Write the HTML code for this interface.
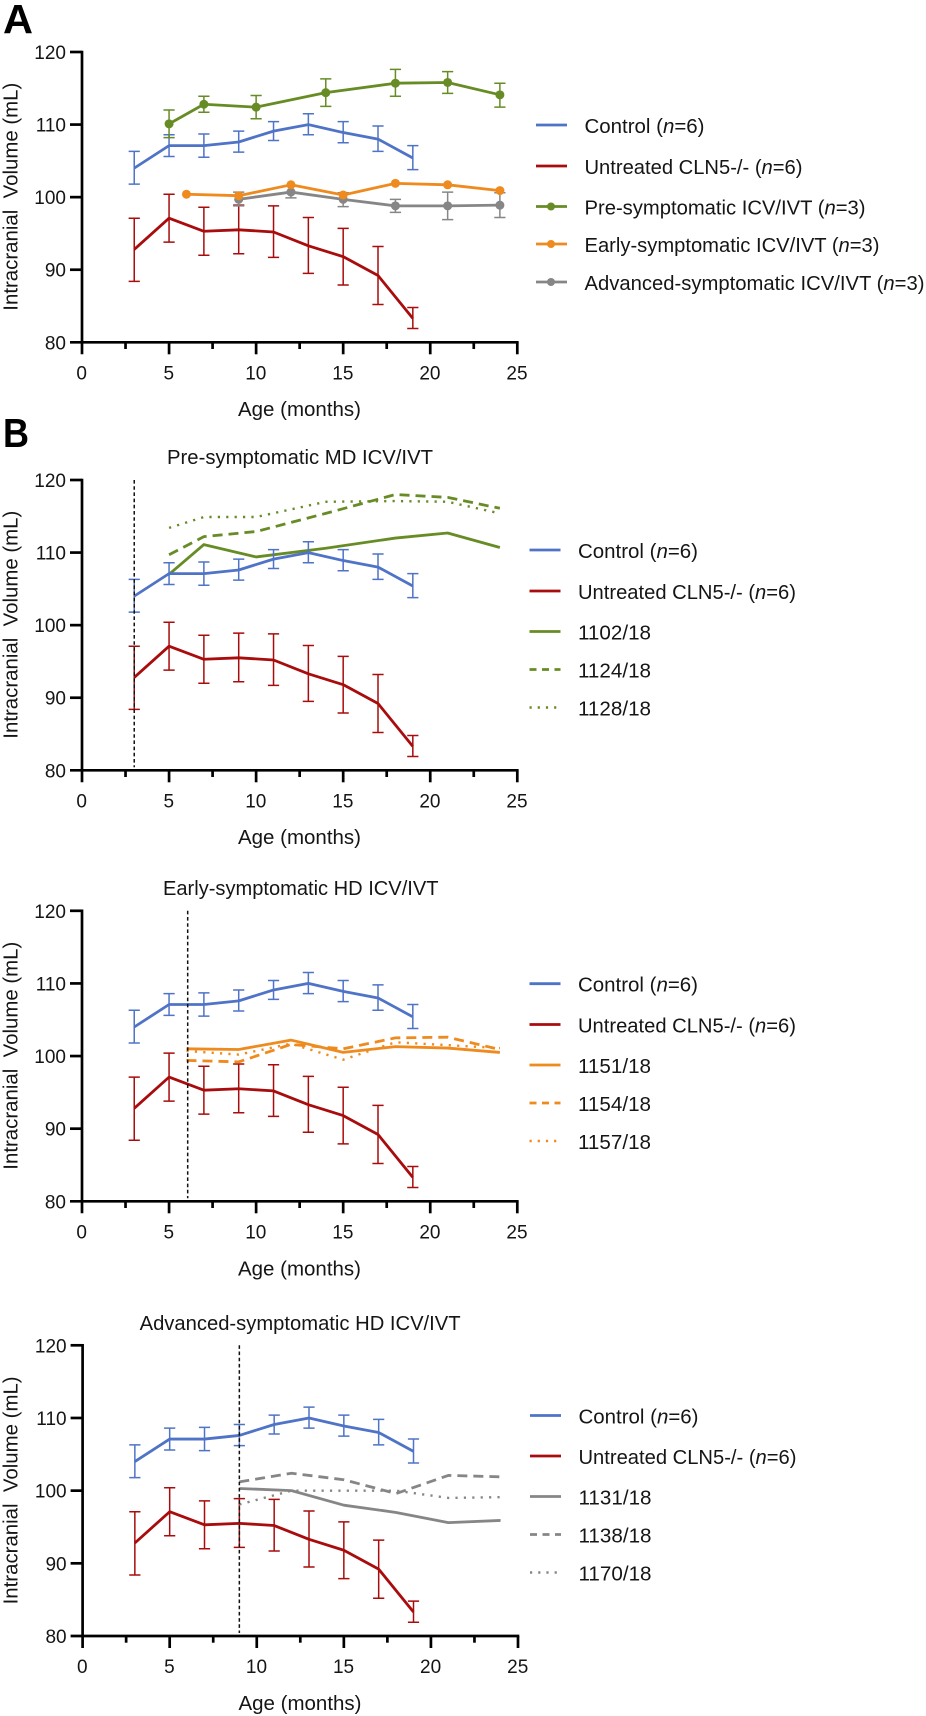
<!DOCTYPE html>
<html lang="en">
<head>
<meta charset="utf-8">
<title>Intracranial volume charts</title>
<style>
html,body{margin:0;padding:0;background:#fff;}
svg{display:block;}
text{font-family:"Liberation Sans",sans-serif;fill:#151515;}
.t{font-size:20px;}
.n{font-size:19px;}
.letter{font-size:41px;font-weight:bold;fill:#000;}
</style>
</head>
<body>
<svg id="figure" width="926" height="1716" viewBox="0 0 926 1716" xmlns="http://www.w3.org/2000/svg">
  <rect width="926" height="1716" fill="#fff"/>

  <text class="letter" x="3" y="33" textLength="30" lengthAdjust="spacingAndGlyphs">A</text>
  <text class="letter" x="3" y="447" textLength="26" lengthAdjust="spacingAndGlyphs">B</text>

  <!-- Titles -->
  <text class="t" x="167" y="464" textLength="266" lengthAdjust="spacingAndGlyphs">Pre-symptomatic MD ICV/IVT</text>
  <text class="t" x="163" y="895" textLength="275.5" lengthAdjust="spacingAndGlyphs">Early-symptomatic HD ICV/IVT</text>
  <text class="t" x="139.6" y="1330" textLength="321" lengthAdjust="spacingAndGlyphs">Advanced-symptomatic HD ICV/IVT</text>

  <!-- Axis titles -->
  <text class="t" transform="translate(17.7,310.7) rotate(-90)" textLength="228" lengthAdjust="spacingAndGlyphs">Intracranial&#160; Volume (mL)</text>
  <text class="t" transform="translate(17.7,738.7) rotate(-90)" textLength="228" lengthAdjust="spacingAndGlyphs">Intracranial&#160; Volume (mL)</text>
  <text class="t" transform="translate(17.7,1169.7) rotate(-90)" textLength="228" lengthAdjust="spacingAndGlyphs">Intracranial&#160; Volume (mL)</text>
  <text class="t" transform="translate(17.7,1604.4) rotate(-90)" textLength="228" lengthAdjust="spacingAndGlyphs">Intracranial&#160; Volume (mL)</text>
  <text class="t" x="238" y="416" textLength="123" lengthAdjust="spacingAndGlyphs">Age (months)</text>
  <text class="t" x="238" y="844" textLength="123" lengthAdjust="spacingAndGlyphs">Age (months)</text>
  <text class="t" x="238" y="1275.5" textLength="123" lengthAdjust="spacingAndGlyphs">Age (months)</text>
  <text class="t" x="238.5" y="1710" textLength="123" lengthAdjust="spacingAndGlyphs">Age (months)</text>

  <!-- Legend A -->
  <g stroke-width="2.8" fill="none">
    <g>
      <line x1="536" x2="567" y1="125" y2="125" stroke="#4f73c6"/>
      <text class="t" stroke="none" x="584.5" y="133" textLength="120" lengthAdjust="spacingAndGlyphs">Control (<tspan font-style="italic">n</tspan>=6)</text>
    </g>
    <g>
      <line x1="536" x2="567" y1="166" y2="166" stroke="#a80c0c"/>
      <text class="t" stroke="none" x="584.5" y="174" textLength="218" lengthAdjust="spacingAndGlyphs">Untreated CLN5-/- (<tspan font-style="italic">n</tspan>=6)</text>
    </g>
    <g>
      <line x1="536" x2="567" y1="206.5" y2="206.5" stroke="#678c25"/>
      <circle cx="551" cy="206.5" r="4" fill="#678c25" stroke="none"/>
      <text class="t" stroke="none" x="584.5" y="214.5" textLength="281" lengthAdjust="spacingAndGlyphs">Pre-symptomatic ICV/IVT (<tspan font-style="italic">n</tspan>=3)</text>
    </g>
    <g>
      <line x1="536" x2="567" y1="244" y2="244" stroke="#ee8a1e"/>
      <circle cx="551" cy="244" r="4" fill="#ee8a1e" stroke="none"/>
      <text class="t" stroke="none" x="584.5" y="252" textLength="295" lengthAdjust="spacingAndGlyphs">Early-symptomatic ICV/IVT (<tspan font-style="italic">n</tspan>=3)</text>
    </g>
    <g>
      <line x1="536" x2="567" y1="282" y2="282" stroke="#868686"/>
      <circle cx="551" cy="282" r="4" fill="#868686" stroke="none"/>
      <text class="t" stroke="none" x="584.5" y="290" textLength="340" lengthAdjust="spacingAndGlyphs">Advanced-symptomatic ICV/IVT (<tspan font-style="italic">n</tspan>=3)</text>
    </g>
  </g>

  <!-- Legend B1 -->
  <g stroke-width="2.8" fill="none">
    <g>
      <line x1="529.5" x2="560.5" y1="550" y2="550" stroke="#4f73c6"/>
      <text class="t" stroke="none" x="578" y="558" textLength="120" lengthAdjust="spacingAndGlyphs">Control (<tspan font-style="italic">n</tspan>=6)</text>
    </g>
    <g>
      <line x1="529.5" x2="560.5" y1="591" y2="591" stroke="#a80c0c"/>
      <text class="t" stroke="none" x="578" y="599" textLength="218" lengthAdjust="spacingAndGlyphs">Untreated CLN5-/- (<tspan font-style="italic">n</tspan>=6)</text>
    </g>
    <g>
      <line x1="529.5" x2="560.5" y1="631.5" y2="631.5" stroke="#678c25"/>
      <text class="t" stroke="none" x="578" y="639.5" textLength="73" lengthAdjust="spacingAndGlyphs">1102/18</text>
    </g>
    <g>
      <line x1="529.5" x2="560.5" y1="669.5" y2="669.5" stroke="#678c25" stroke-dasharray="7 5.5"/>
      <text class="t" stroke="none" x="578" y="677.5" textLength="73" lengthAdjust="spacingAndGlyphs">1124/18</text>
    </g>
    <g>
      <line x1="529.5" x2="560.5" y1="707.5" y2="707.5" stroke="#678c25" stroke-width="2.4" stroke-dasharray="2.2 6"/>
      <text class="t" stroke="none" x="578" y="715.5" textLength="73" lengthAdjust="spacingAndGlyphs">1128/18</text>
    </g>
  </g>

  <!-- Legend B2 -->
  <g stroke-width="2.8" fill="none">
    <g>
      <line x1="529.5" x2="560.5" y1="983.7" y2="983.7" stroke="#4f73c6"/>
      <text class="t" stroke="none" x="578" y="991.7" textLength="120" lengthAdjust="spacingAndGlyphs">Control (<tspan font-style="italic">n</tspan>=6)</text>
    </g>
    <g>
      <line x1="529.5" x2="560.5" y1="1024.5" y2="1024.5" stroke="#a80c0c"/>
      <text class="t" stroke="none" x="578" y="1032.5" textLength="218" lengthAdjust="spacingAndGlyphs">Untreated CLN5-/- (<tspan font-style="italic">n</tspan>=6)</text>
    </g>
    <g>
      <line x1="529.5" x2="560.5" y1="1065" y2="1065" stroke="#ee8a1e"/>
      <text class="t" stroke="none" x="578" y="1073" textLength="73" lengthAdjust="spacingAndGlyphs">1151/18</text>
    </g>
    <g>
      <line x1="529.5" x2="560.5" y1="1103" y2="1103" stroke="#ee8a1e" stroke-dasharray="7 5.5"/>
      <text class="t" stroke="none" x="578" y="1111" textLength="73" lengthAdjust="spacingAndGlyphs">1154/18</text>
    </g>
    <g>
      <line x1="529.5" x2="560.5" y1="1141" y2="1141" stroke="#ee8a1e" stroke-width="2.4" stroke-dasharray="2.2 6"/>
      <text class="t" stroke="none" x="578" y="1149" textLength="73" lengthAdjust="spacingAndGlyphs">1157/18</text>
    </g>
  </g>

  <!-- Legend B3 -->
  <g stroke-width="2.8" fill="none">
    <g>
      <line x1="530" x2="561" y1="1415.5" y2="1415.5" stroke="#4f73c6"/>
      <text class="t" stroke="none" x="578.5" y="1423.5" textLength="120" lengthAdjust="spacingAndGlyphs">Control (<tspan font-style="italic">n</tspan>=6)</text>
    </g>
    <g>
      <line x1="530" x2="561" y1="1456" y2="1456" stroke="#a80c0c"/>
      <text class="t" stroke="none" x="578.5" y="1464" textLength="218" lengthAdjust="spacingAndGlyphs">Untreated CLN5-/- (<tspan font-style="italic">n</tspan>=6)</text>
    </g>
    <g>
      <line x1="530" x2="561" y1="1496.5" y2="1496.5" stroke="#868686"/>
      <text class="t" stroke="none" x="578.5" y="1504.5" textLength="73" lengthAdjust="spacingAndGlyphs">1131/18</text>
    </g>
    <g>
      <line x1="530" x2="561" y1="1534.5" y2="1534.5" stroke="#868686" stroke-dasharray="7 5.5"/>
      <text class="t" stroke="none" x="578.5" y="1542.5" textLength="73" lengthAdjust="spacingAndGlyphs">1138/18</text>
    </g>
    <g>
      <line x1="530" x2="561" y1="1572.5" y2="1572.5" stroke="#868686" stroke-width="2.4" stroke-dasharray="2.2 6"/>
      <text class="t" stroke="none" x="578.5" y="1580.5" textLength="73" lengthAdjust="spacingAndGlyphs">1170/18</text>
    </g>
  </g>
</svg>

<script>
// ---- tick labels ----
const yTickValues = [80, 90, 100, 110, 120];
const xTickValues = [0, 5, 10, 15, 20, 25];
const xMinorTickValues = [2.5, 7.5, 12.5, 17.5, 22.5];

// ---- control and untreated (all panels) ----
const controlAges = [3, 5, 7, 9, 11, 13, 15, 17, 19];
const controlMean = [104, 107.1, 107.1, 107.6, 109.1, 110, 108.9, 108, 105.4];
const controlUpper = [106.3, 108.6, 108.7, 109.1, 110.4, 111.5, 110.4, 109.8, 107.1];
const controlLower = [101.8, 105.6, 105.5, 106.2, 107.8, 108.6, 107.5, 106.3, 103.8];

const untreatedAges = [3, 5, 7, 9, 11, 13, 15, 17, 19];
const untreatedMean = [92.8, 97.1, 95.3, 95.5, 95.2, 93.3, 91.8, 89.2, 83.3];
const untreatedUpper = [97.1, 100.4, 98.6, 98.9, 98.8, 97.2, 95.7, 93.2, 84.8];
const untreatedLower = [88.4, 93.8, 92.0, 92.2, 91.7, 89.5, 87.9, 85.2, 81.9];

// ---- panel A groups ----
const preAges = [5, 7, 10, 14, 18, 21, 24];
const preMean = [110.1, 112.8, 112.4, 114.4, 115.7, 115.8, 114.1];
const preUpper = [112, 113.9, 114, 116.3, 117.6, 117.3, 115.7];
const preLower = [108.2, 111.7, 110.8, 112.5, 113.9, 114.3, 112.4];

const earlyAges = [6, 9, 12, 15, 18, 21, 24];
const earlyMean = [100.4, 100.2, 101.7, 100.3, 101.9, 101.7, 100.9];

const advancedAges = [9, 12, 15, 18, 21, 24];
const advancedMean = [99.7, 100.7, 99.7, 98.8, 98.8, 98.9];
const advancedUpper = [100.7, 101.5, 100.6, 99.7, 100.7, 100.6];
const advancedLower = [98.8, 99.9, 98.7, 97.9, 96.9, 97.2];

// ---- panel B individual animals ----
const preAnimalAges = [5, 7, 10, 14, 18, 21, 24];
const animal1102 = [107.0, 111.1, 109.4, 110.6, 112.0, 112.7, 110.7];
const animal1124 = [109.7, 112.2, 112.9, 115.4, 118.0, 117.6, 116.1];
const animal1128 = [113.4, 114.9, 114.9, 117.0, 117.1, 117.0, 115.4];

const earlyAnimalAges = [6, 9, 12, 15, 18, 21, 24];
const animal1151 = [101.0, 100.9, 102.2, 100.5, 101.3, 101.1, 100.5];
const animal1154 = [99.4, 99.2, 101.6, 101.0, 102.5, 102.6, 100.9];
const animal1157 = [100.7, 100.2, 101.7, 99.5, 101.9, 101.5, 101.1];

const advancedAnimalAges = [9, 12, 15, 18, 21, 24];
const animal1131 = [100.3, 100.0, 98.0, 97.0, 95.6, 95.9];
const animal1138 = [101.2, 102.4, 101.5, 99.6, 102.1, 101.9];
const animal1170 = [98.1, 100.0, 100.0, 100.0, 99.0, 99.1];

// ---- treatment start (vertical marker) ----
const treatmentStartB1 = 3;
const treatmentStartB2 = 6.07;
const treatmentStartB3 = 9;

const BLUE = '#4f73c6';
const RED = '#a80c0c';
const GREEN = '#678c25';
const ORANGE = '#ee8a1e';
const GREY = '#868686';
const NS = 'http://www.w3.org/2000/svg';
const figure = document.getElementById('figure');

function makeScales(left, right, top, bottom) {
  return {
    x: function (v) { return left + (v / 25) * (right - left); },
    y: function (v) { return bottom - ((v - 80) / 40) * (bottom - top); }
  };
}

function drawAxes(prefix, s) {
  const g = document.createElementNS(NS, 'g');
  
  
  g.setAttribute('stroke', '#000');
  g.setAttribute('stroke-width', '2.7');
  const yAxis = document.createElementNS(NS, 'line');
  
  
  yAxis.setAttribute('x1', s.x(0));
  yAxis.setAttribute('x2', s.x(0));
  yAxis.setAttribute('y1', s.y(120) - 1.3);
  yAxis.setAttribute('y2', s.y(80) + 12);
  g.appendChild(yAxis);
  const xAxis = document.createElementNS(NS, 'line');
  
  
  xAxis.setAttribute('x1', s.x(0) - 12);
  xAxis.setAttribute('x2', s.x(25) + 1.3);
  xAxis.setAttribute('y1', s.y(80));
  xAxis.setAttribute('y2', s.y(80));
  g.appendChild(xAxis);
  yTickValues.forEach(function (v) {
    if (v !== 80) {
      const tick = document.createElementNS(NS, 'line');
      
      
      tick.setAttribute('x1', s.x(0) - 12);
      tick.setAttribute('x2', s.x(0));
      tick.setAttribute('y1', s.y(v));
      tick.setAttribute('y2', s.y(v));
      g.appendChild(tick);
    }
    const label = document.createElementNS(NS, 'text');
    
    
    label.setAttribute('class', 'n');
    label.setAttribute('stroke', 'none');
    label.setAttribute('text-anchor', 'end');
    label.setAttribute('x', s.x(0) - 16);
    label.setAttribute('y', s.y(v) + 7);
    label.textContent = String(v);
    g.appendChild(label);
  });
  xTickValues.forEach(function (v) {
    if (v !== 0) {
      const tick = document.createElementNS(NS, 'line');
      
      
      tick.setAttribute('x1', s.x(v));
      tick.setAttribute('x2', s.x(v));
      tick.setAttribute('y1', s.y(80));
      tick.setAttribute('y2', s.y(80) + 12);
      g.appendChild(tick);
    }
    const label = document.createElementNS(NS, 'text');
    
    
    label.setAttribute('class', 'n');
    label.setAttribute('stroke', 'none');
    label.setAttribute('text-anchor', 'middle');
    label.setAttribute('x', s.x(v) - 0.3);
    label.setAttribute('y', s.y(80) + 37);
    label.textContent = String(v);
    g.appendChild(label);
  });
  xMinorTickValues.forEach(function (v) {
    const tick = document.createElementNS(NS, 'line');
    
    
    tick.setAttribute('x1', s.x(v));
    tick.setAttribute('x2', s.x(v));
    tick.setAttribute('y1', s.y(80));
    tick.setAttribute('y2', s.y(80) + 6.7);
    g.appendChild(tick);
  });
  figure.appendChild(g);
}

function drawLine(name, s, ages, values, color, dash, width) {
  const p = document.createElementNS(NS, 'polyline');
  
  
  p.setAttribute('points', ages.map(function (a, i) { return s.x(a).toFixed(2) + ',' + s.y(values[i]).toFixed(2); }).join(' '));
  p.setAttribute('fill', 'none');
  p.setAttribute('stroke', color);
  p.setAttribute('stroke-width', width || 2.8);
  p.setAttribute('stroke-linejoin', 'round');
  if (dash) { p.setAttribute('stroke-dasharray', dash); }
  figure.appendChild(p);
}

function drawErrors(name, s, ages, upper, lower, color) {
  ages.forEach(function (a, i) {
    const e = document.createElementNS(NS, 'path');
    
    
    const x = s.x(a), u = s.y(upper[i]), l = s.y(lower[i]);
    e.setAttribute('d', 'M' + (x - 5.6) + ' ' + u + 'H' + (x + 5.6) + 'M' + x + ' ' + u + 'V' + l + 'M' + (x - 5.6) + ' ' + l + 'H' + (x + 5.6));
    e.setAttribute('fill', 'none');
    e.setAttribute('stroke', color);
    e.setAttribute('stroke-width', '1.5');
    figure.appendChild(e);
  });
}

function drawPoints(name, s, ages, values, color) {
  ages.forEach(function (a, i) {
    const c = document.createElementNS(NS, 'circle');
    
    
    c.setAttribute('cx', s.x(a));
    c.setAttribute('cy', s.y(values[i]));
    c.setAttribute('r', '4.5');
    c.setAttribute('fill', color);
    figure.appendChild(c);
  });
}

function drawMarker(name, s, age) {
  const m = document.createElementNS(NS, 'line');
  
  
  m.setAttribute('x1', s.x(age));
  m.setAttribute('x2', s.x(age));
  m.setAttribute('y1', s.y(120));
  m.setAttribute('y2', s.y(80) - 3);
  m.setAttribute('stroke', '#111');
  m.setAttribute('stroke-width', '1.5');
  m.setAttribute('stroke-dasharray', '3.6 2.6');
  figure.appendChild(m);
}

function drawBaseSeries(prefix, s) {
  drawErrors(prefix + '-control', s, controlAges, controlUpper, controlLower, BLUE);
  drawLine(prefix + '-control-line', s, controlAges, controlMean, BLUE);
  drawErrors(prefix + '-untreated', s, untreatedAges, untreatedUpper, untreatedLower, RED);
  drawLine(prefix + '-untreated-line', s, untreatedAges, untreatedMean, RED);
}

const DASH = '10 6';
const DOT = '2.2 6.2';

// Panel A
const scaleA = makeScales(82, 517.3, 52, 342.3);
drawAxes('chart-a', scaleA);
drawBaseSeries('chart-a', scaleA);
drawErrors('chart-a-pre', scaleA, preAges, preUpper, preLower, GREEN);
drawLine('chart-a-pre-line', scaleA, preAges, preMean, GREEN);
drawPoints('chart-a-pre', scaleA, preAges, preMean, GREEN);
drawErrors('chart-a-advanced', scaleA, advancedAges, advancedUpper, advancedLower, GREY);
drawLine('chart-a-advanced-line', scaleA, advancedAges, advancedMean, GREY);
drawPoints('chart-a-advanced', scaleA, advancedAges, advancedMean, GREY);
drawLine('chart-a-early-line', scaleA, earlyAges, earlyMean, ORANGE);
drawPoints('chart-a-early', scaleA, earlyAges, earlyMean, ORANGE);

// Panel B1
const scaleB1 = makeScales(82, 517.3, 480, 770.3);
drawAxes('chart-b1', scaleB1);
drawLine('chart-b1-1102-line', scaleB1, preAnimalAges, animal1102, GREEN);
drawLine('chart-b1-1124-line', scaleB1, preAnimalAges, animal1124, GREEN, DASH);
drawLine('chart-b1-1128-line', scaleB1, preAnimalAges, animal1128, GREEN, DOT, 2.4);
drawBaseSeries('chart-b1', scaleB1);
drawMarker('chart-b1-treatment-marker', scaleB1, treatmentStartB1);

// Panel B2
const scaleB2 = makeScales(82, 517.3, 910.8, 1201.3);
drawAxes('chart-b2', scaleB2);
drawBaseSeries('chart-b2', scaleB2);
drawLine('chart-b2-1151-line', scaleB2, earlyAnimalAges, animal1151, ORANGE);
drawLine('chart-b2-1154-line', scaleB2, earlyAnimalAges, animal1154, ORANGE, DASH);
drawLine('chart-b2-1157-line', scaleB2, earlyAnimalAges, animal1157, ORANGE, DOT, 2.4);
drawMarker('chart-b2-treatment-marker', scaleB2, treatmentStartB2);

// Panel B3
const scaleB3 = makeScales(82.6, 518, 1345.3, 1636);
drawAxes('chart-b3', scaleB3);
drawBaseSeries('chart-b3', scaleB3);
drawLine('chart-b3-1131-line', scaleB3, advancedAnimalAges, animal1131, GREY);
drawLine('chart-b3-1138-line', scaleB3, advancedAnimalAges, animal1138, GREY, DASH);
drawLine('chart-b3-1170-line', scaleB3, advancedAnimalAges, animal1170, GREY, DOT, 2.4);
drawMarker('chart-b3-treatment-marker', scaleB3, treatmentStartB3);
</script>
</body>
</html>
